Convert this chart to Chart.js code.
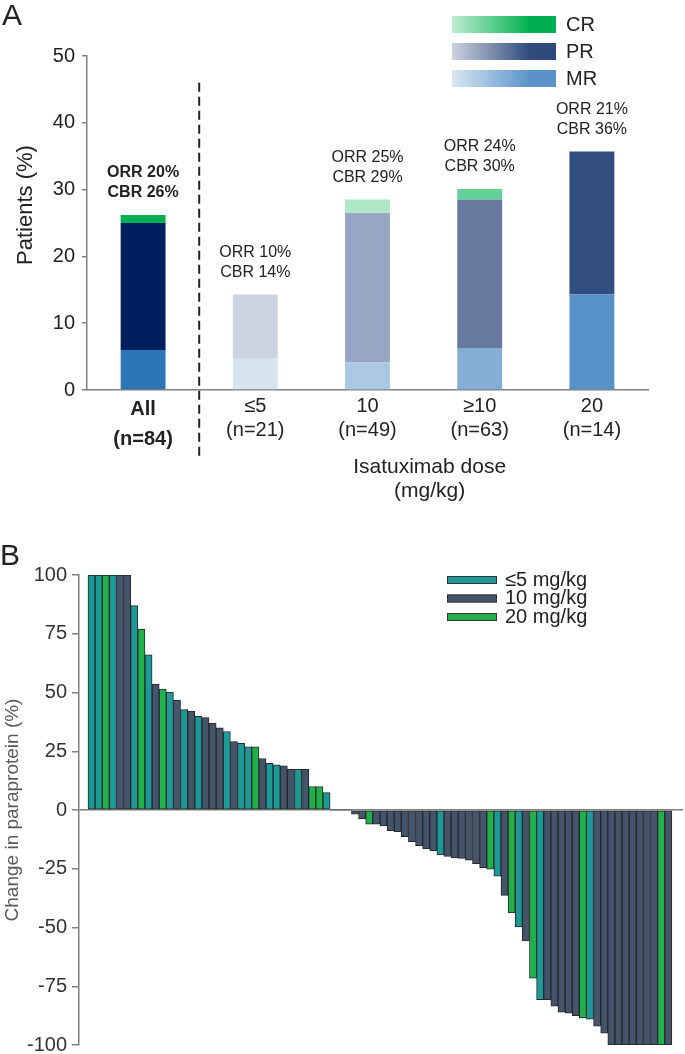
<!DOCTYPE html>
<html>
<head>
<meta charset="utf-8">
<script src="https://cdn.jsdelivr.net/npm/chart.js@4.4.1/dist/chart.umd.min.js"></script>
<style>
  body { margin: 0; overflow: hidden; background: #fff; }
  canvas { display: block; }
</style>
</head>
<body>
<canvas id="chartA" width="685" height="510"></canvas>
<canvas id="chartB" width="685" height="560"></canvas>
<script>
// Panel A - best response by isatuximab dose (stacked MR / PR / CR)
const groupLabels = [['All', '(n=84)'], ['≤5', '(n=21)'], ['10', '(n=49)'], ['≥10', '(n=63)'], ['20', '(n=14)']]
const mrValues = [6.0, 4.8, 4.1, 6.3, 14.3]
const prValues = [19.0, 9.5, 22.4, 22.2, 21.4]
const crValues = [1.2, 0, 2.0, 1.6, 0]
const orrValues = [20, 10, 25, 24, 21]
const cbrValues = [26, 14, 29, 30, 36]

// Panel B - change in paraprotein per patient (waterfall)
const changeValues = [
    100, 100, 100, 100, 100, 100, 87, 77, 66, 53.6, 51.5, 50.2, 46.8, 42.7, 42.1, 39.9, 39.3,
    37, 35, 33.4, 29.1, 28.4, 26.9, 26.9, 21.9, 19.9, 19.2, 18.8, 17.3, 17.3, 17.3, 10, 10, 7.4,
    0, 0, 0,
    -1.8, -3.8, -6, -6, -6.8, -8.8, -9.2, -11.4, -13.5, -15.2, -16.6, -17.3, -19.1, -19.7, -20.4,
    -20.6, -21.4, -22.8, -24.5, -25.2, -28.2, -36.3, -43.8, -49.8, -55.7, -71.6, -80.7, -80.7,
    -83.5, -86, -86.5, -87.5, -88.5, -89, -92, -95, -100, -100, -100, -100, -100, -100, -100,
    -100, -100
]
// 0 = <=5 mg/kg, 1 = 10 mg/kg, 2 = 20 mg/kg
const doseIndex = [
    0, 0, 2, 0, 1, 1, 0, 2, 0, 1, 2, 0, 1, 0, 1, 0, 1,
    1, 1, 0, 1, 0, 0, 2, 1, 0, 0, 1, 1, 0, 1, 2, 2, 0,
    1, 1, 1,
    1, 1, 2, 1, 1, 1, 1, 1, 1, 1, 1, 1, 0, 1, 1,
    1, 1, 1, 1, 2, 0, 1, 2, 0, 1, 2, 0, 1,
    1, 1, 1, 1, 2, 0, 1, 1, 1, 1, 1, 1, 1, 1, 1,
    2, 1
]
const doseNames = ['≤5 mg/kg', '10 mg/kg', '20 mg/kg']

// styles
const FONT = '"Liberation Sans", Arial, sans-serif'
const mrColors = ['#2E75B6', '#D6E4F1', '#AAC8E4', '#84AED6', '#5891C7']
const prColors = ['#001F5C', '#CDD3E2', '#97A7C3', '#67799F', '#324D7F']
const crColors = ['#00B050', '#FFFFFF', '#AEE6C6', '#62D196', '#FFFFFF']
const doseColors = ['#1B9A97', '#44546A', '#21B14B']

Chart.defaults.font.family = FONT

const panelA = {
    id: 'panelA',
    afterDatasetsDraw(chart) {
        const {ctx, chartArea} = chart
        const x = chart.scales.x
        const y = chart.scales.y
        ctx.save()

        // dashed separator between "All" and the dose groups
        const sepX = (x.getPixelForValue(0) + x.getPixelForValue(1)) / 2
        ctx.strokeStyle = '#222'
        ctx.lineWidth = 2
        ctx.setLineDash([9, 5])
        ctx.beginPath()
        ctx.moveTo(sepX, y.getPixelForValue(46))
        ctx.lineTo(sepX, chartArea.bottom + 67)
        ctx.stroke()
        ctx.setLineDash([])

        // ORR / CBR above each bar
        ctx.fillStyle = '#222'
        ctx.textAlign = 'center'
        ctx.textBaseline = 'middle'
        groupLabels.forEach((g, i) => {
            const top = y.getPixelForValue(mrValues[i] + prValues[i] + crValues[i])
            const cx = x.getPixelForValue(i)
            ctx.font = (i === 0 ? 'bold ' : '') + '16px ' + FONT
            ctx.fillText('ORR ' + orrValues[i] + '%', cx, top - 42)
            ctx.fillText('CBR ' + cbrValues[i] + '%', cx, top - 22)
        })

        // x title, centred under the dose groups
        const doseMid = (x.getPixelForValue(1) + x.getPixelForValue(4)) / 2 + 6
        ctx.font = '21px ' + FONT
        ctx.fillText('Isatuximab dose', doseMid, chartArea.bottom + 77)
        ctx.fillText('(mg/kg)', doseMid, chartArea.bottom + 101)

        // y title
        ctx.save()
        ctx.translate(26, 205)
        ctx.rotate(-Math.PI / 2)
        ctx.font = '22px ' + FONT
        ctx.fillText('Patients (%)', 0, 0)
        ctx.restore()

        // gradient legend
        const legend = [
            ['CR', '#BDEDCF', '#00B050'],
            ['PR', '#CDD2DF', '#2F4A7C'],
            ['MR', '#DAE7F3', '#5B93C9']
        ]
        legend.forEach((item, k) => {
            const top = 16 + k * 27
            const grad = ctx.createLinearGradient(452, 0, 556, 0)
            grad.addColorStop(0, item[1])
            grad.addColorStop(0.75, item[2])
            grad.addColorStop(1, item[2])
            ctx.fillStyle = grad
            ctx.fillRect(452, top, 104, 17)
            ctx.fillStyle = '#222'
            ctx.textAlign = 'left'
            ctx.font = '20px ' + FONT
            ctx.fillText(item[0], 566, top + 9)
        })

        // panel letter
        ctx.font = '30px ' + FONT
        ctx.textBaseline = 'alphabetic'
        ctx.fillText('A', 2, 25)
        ctx.restore()
    }
}

new Chart(document.getElementById('chartA'), {
    type: 'bar',
    data: {
        labels: groupLabels,
        datasets: [
            {label: 'MR', data: mrValues, backgroundColor: mrColors},
            {label: 'PR', data: prValues, backgroundColor: prColors},
            {label: 'CR', data: crValues, backgroundColor: crColors}
        ]
    },
    options: {
        responsive: false,
        animation: false,
        layout: {padding: {top: 56, right: 37, left: 0, bottom: 0}},
        datasets: {bar: {barPercentage: 0.4, categoryPercentage: 1}},
        plugins: {legend: {display: false}, tooltip: {enabled: false}},
        scales: {
            x: {
                stacked: true,
                grid: {display: false, drawTicks: false},
                border: {color: '#808080', width: 1.5},
                ticks: {
                    color: '#222',
                    padding: 4,
                    // "All" sits a little lower in the original
                    font: c => ({size: 20, family: FONT, weight: c.index === 0 ? 'bold' : 'normal', lineHeight: c.index === 0 ? 1.5 : 1.2})
                },
                afterFit: s => { s.height = 120 }
            },
            y: {
                stacked: true,
                min: 0,
                max: 50,
                ticks: {stepSize: 10, color: '#222', padding: 7, font: {size: 20}},
                grid: {drawOnChartArea: false, tickLength: 5, tickColor: '#808080', lineWidth: 1.5},
                border: {color: '#808080', width: 1.5},
                afterFit: s => { s.width = 87 }
            }
        }
    },
    plugins: [panelA]
})

const panelB = {
    id: 'panelB',
    afterDraw(chart) {
        const {ctx} = chart
        ctx.save()
        // legend
        doseNames.forEach((name, k) => {
            const cy = 70 + k * 18.5
            ctx.fillStyle = doseColors[k]
            ctx.fillRect(447, cy - 4, 50, 8)
            ctx.strokeStyle = '#333'
            ctx.lineWidth = 1
            ctx.strokeRect(447.5, cy - 3.5, 49, 7)
            ctx.fillStyle = '#222'
            ctx.font = '20px ' + FONT
            ctx.textAlign = 'left'
            ctx.textBaseline = 'middle'
            ctx.fillText(name, 505, cy)
        })
        // panel letter
        ctx.font = '30px ' + FONT
        ctx.textBaseline = 'alphabetic'
        ctx.fillText('B', 0, 55)
        ctx.restore()
    }
}

new Chart(document.getElementById('chartB'), {
    type: 'bar',
    data: {
        datasets: [{
            label: 'Change in paraprotein',
            data: changeValues.map((v, i) => ({x: i, y: v})),
            backgroundColor: doseIndex.map(d => doseColors[d]),
            borderColor: '#262626',
            borderWidth: changeValues.map(v => v === 0 ? 0 : 1),
            borderSkipped: false,
            barPercentage: 1,
            categoryPercentage: 1
        }]
    },
    options: {
        responsive: false,
        animation: false,
        layout: {padding: {top: 65, right: 2, left: 0, bottom: 25}},
        plugins: {legend: {display: false}, tooltip: {enabled: false}},
        scales: {
            x: {type: 'linear', display: false, offset: false, min: -1.76, max: 83.06},
            y: {
                min: -100,
                max: 100,
                ticks: {stepSize: 25, color: '#333', padding: 5, font: {size: 20}},
                grid: {
                    color: c => c.tick && c.tick.value === 0 ? '#7f7f7f' : 'transparent',
                    lineWidth: 1.5,
                    tickLength: 7,
                    tickColor: '#7f7f7f'
                },
                border: {color: '#7f7f7f', width: 1.5},
                title: {
                    display: true,
                    text: 'Change in paraprotein (%)',
                    color: '#595959',
                    font: {size: 19},
                    padding: {top: 1, bottom: 0}
                },
                afterFit: s => { s.width = 79 }
            }
        }
    },
    plugins: [panelB]
})
</script>
</body>
</html>
